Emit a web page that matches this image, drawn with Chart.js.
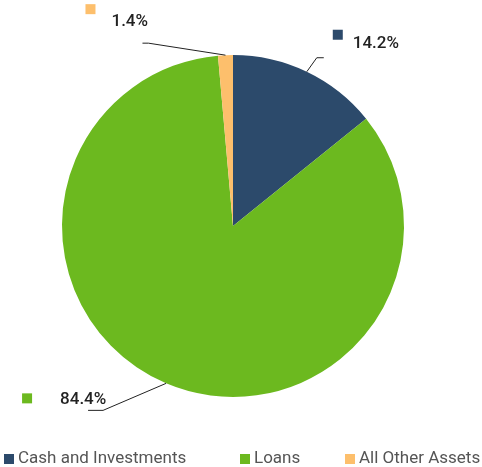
<!DOCTYPE html>
<html>
<head>
<meta charset="utf-8">
<script src="https://cdn.jsdelivr.net/npm/chart.js@4"></script>
<style>
  html, body { margin: 0; padding: 0; background: #fff; }
  #wrap { position: relative; width: 482px; height: 467px; overflow: hidden; }
  #chart { position: absolute; left: 0; top: 0; }
  #legend { position: absolute; left: 0; top: 447px; width: 482px; height: 20px;
            font-family: Roboto, "Open Sans", sans-serif; font-size: 17px; color: #555; line-height: 20px; white-space: nowrap; }
  #legend .item { position: absolute; top: 0; display: flex; align-items: center; }
  #legend .box { width: 10px; height: 10px; margin-right: 4px; margin-top: 3px; }
</style>
</head>
<body>
<div id="wrap">
  <canvas id="chart" width="482" height="467"></canvas>
  <div id="legend"></div>
</div>
<script>
// Asset mix
const categories = ["Cash and Investments", "Loans", "All Other Assets"];
const shares = [14.2, 84.4, 1.4];
const sliceColors = ["#2c4a6b", "#6cb91f", "#fdbf6c"];

// Legend item left edges
const legendLeft = [4, 240, 345];

// Leader line routing for each slice label: elbow offset from the slice edge,
// horizontal tail, and text placement relative to the tail end.
const labelLayout = [
  { elbow: [10, -14], tail: 7, text: [29, -14], box: [9, -28] },
  { elbow: [-63, 27], tail: -15, text: [-28, -11], box: [-66, -17] },
  { elbow: [-77, -12], tail: -6, text: [-31, -21], box: [-57, -39] }
];

const sliceLabels = {
  id: "sliceLabels",
  afterDatasetsDraw(chart) {
    const ctx = chart.ctx;
    const meta = chart.getDatasetMeta(0);
    meta.data.forEach((arc, i) => {
      const mid = (arc.startAngle + arc.endAngle) / 2;
      const x0 = arc.x + Math.cos(mid) * arc.outerRadius;
      const y0 = arc.y + Math.sin(mid) * arc.outerRadius;
      const L = labelLayout[i];
      const x1 = x0 + L.elbow[0], y1 = y0 + L.elbow[1];
      const x2 = x1 + L.tail, y2 = y1;
      ctx.save();
      ctx.strokeStyle = "#222";
      ctx.lineWidth = 1;
      ctx.beginPath();
      ctx.moveTo(x0, y0);
      ctx.lineTo(x1, y1);
      ctx.lineTo(x2, y2);
      ctx.stroke();
      ctx.fillStyle = sliceColors[i];
      ctx.fillRect(x2 + L.box[0], y2 + L.box[1], 10, 10);
      ctx.fillStyle = "#222";
      ctx.font = "500 17px Roboto, 'Open Sans', sans-serif";
      ctx.textAlign = "left";
      ctx.textBaseline = "middle";
      ctx.fillText(shares[i].toFixed(1) + "%", x2 + L.text[0], y2 + L.text[1]);
      ctx.restore();
    });
  }
};

new Chart(document.getElementById("chart"), {
  type: "pie",
  data: {
    labels: categories,
    datasets: [{
      data: shares,
      backgroundColor: sliceColors,
      borderWidth: 0
    }]
  },
  options: {
    responsive: false,
    animation: false,
    layout: { padding: { top: 55, bottom: 70, left: 61, right: 77 } },
    plugins: {
      legend: { display: false },
      tooltip: { enabled: false }
    }
  },
  plugins: [sliceLabels]
});

// Legend
const legend = document.getElementById("legend");
categories.forEach((name, i) => {
  const item = document.createElement("div");
  item.className = "item";
  item.style.left = legendLeft[i] + "px";
  const box = document.createElement("span");
  box.className = "box";
  box.style.background = sliceColors[i];
  const txt = document.createElement("span");
  txt.textContent = name;
  item.appendChild(box);
  item.appendChild(txt);
  legend.appendChild(item);
});
</script>
</body>
</html>
